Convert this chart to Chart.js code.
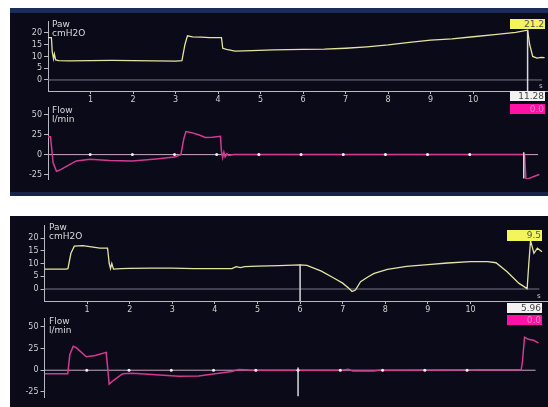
<!DOCTYPE html>
<html>
<head>
<meta charset="utf-8">
<script src="https://cdn.jsdelivr.net/npm/chart.js@4.4.1/dist/chart.umd.min.js"></script>
<style>
body { margin: 0; background: #fff; width: 548px; height: 407px; overflow: hidden; position: relative; font-family: "DejaVu Sans", sans-serif; }
.panel { position: absolute; left: 10px; width: 538px; background: #0a0a19; }
.band { position: absolute; left: 10px; width: 538px; background: #1b2b5a; }
canvas { position: absolute; }
.lbl { position: absolute; color: #d8d8d8; font-size: 9px; line-height: 9px; }
.box { position: absolute; width: 35px; height: 10px; font-size: 9px; line-height: 10px; text-align: right; padding-right: 1px; box-sizing: border-box; }
.yel { background: #f4f45c; color: #555; }
.wht { background: #f2f2f2; color: #444; }
.mag { background: #ff12a4; color: #ff7fd0; }
.unit { position: absolute; color: #ccc; font-size: 7px; }
</style>
</head>
<body>
<div class="panel" style="top:8px;height:188px"></div>
<div class="band" style="top:8px;height:5px"></div>
<div class="band" style="top:192px;height:4px;background:#17234a"></div>
<div class="panel" style="top:216px;height:191px"></div>

<canvas id="paw1" width="538" height="92" style="left:10px;top:14px"></canvas>
<canvas id="flow1" width="538" height="86" style="left:10px;top:100px"></canvas>
<canvas id="paw2" width="538" height="98" style="left:10px;top:218px"></canvas>
<canvas id="flow2" width="538" height="93" style="left:10px;top:311px"></canvas>

<div class="lbl" style="left:52px;top:20px">Paw<br>cmH2O</div>
<div class="lbl" style="left:52px;top:106px">Flow<br>l/min</div>
<div class="lbl" style="left:49px;top:223px">Paw<br>cmH2O</div>
<div class="lbl" style="left:49px;top:317px">Flow<br>l/min</div>

<div class="box yel" style="left:510px;top:19px">21.2</div>
<div class="box wht" style="left:510px;top:91px">11.28</div>
<div class="box mag" style="left:510px;top:104px">0.0</div>
<div class="box yel" style="left:507px;top:230px;height:11px">9.5</div>
<div class="box wht" style="left:507px;top:303px">5.96</div>
<div class="box mag" style="left:507px;top:315px">0.0</div>
<div class="unit" style="left:539px;top:82px">s</div>
<div class="unit" style="left:537px;top:292px">s</div>

<script>
// tick values
const secTicks = [1, 2, 3, 4, 5, 6, 7, 8, 9, 10];
const pawTicks = [0, 5, 10, 15, 20];
const flowTicks = [-25, 0, 25, 50];

// upper screen
const paw1T = [0, 0.08, 0.1, 0.13, 0.15, 0.18, 0.25, 0.5, 1, 1.5, 2, 2.5, 3, 3.15, 3.22, 3.28, 3.4, 3.6, 3.8, 4.08, 4.11, 4.2, 4.4, 4.8, 5.3, 6, 6.5, 7, 7.5, 8, 8.5, 9, 9.5, 10, 10.5, 11, 11.28, 11.33, 11.4, 11.5, 11.6, 11.68];
const paw1V = [18, 18, 12, 9, 11, 8.5, 8.2, 8.1, 8.2, 8.3, 8.2, 8.1, 8, 8.2, 15, 18.8, 18.3, 18.2, 18, 18, 13.5, 13, 12.3, 12.5, 12.8, 13, 13.1, 13.5, 14.1, 14.9, 16, 17, 17.5, 18.4, 19.3, 20.3, 21.2, 15, 10, 9.3, 9.6, 9.5];
const flow1T = [0, 0.06, 0.12, 0.2, 0.3, 0.5, 0.67, 1, 1.46, 2, 2.56, 3, 3.15, 3.22, 3.27, 3.38, 3.57, 3.73, 3.9, 4.09, 4.11, 4.14, 4.17, 4.2, 4.24, 4.28, 4.4, 11.3, 11.33, 11.36, 11.45, 11.55, 11.65];
const flow1V = [22.5, 22.5, -10, -21, -19, -13, -8, -6, -7.5, -8, -5.4, -3, 0, 20, 29, 28, 25, 21.6, 22, 23, 5, -4, 3, -3, 1, -1, 0, 0, -30, -31, -29, -27, -25];

// lower screen
const paw2T = [0, 0.5, 0.55, 0.62, 0.7, 0.9, 1.1, 1.3, 1.48, 1.52, 1.55, 1.58, 1.62, 1.8, 2, 2.5, 3, 3.5, 4, 4.4, 4.5, 4.6, 4.7, 5, 5.5, 6, 6.16, 6.5, 6.8, 7, 7.15, 7.22, 7.3, 7.42, 7.6, 7.74, 8.05, 8.5, 9, 9.46, 10, 10.4, 10.6, 10.86, 11.14, 11.33, 11.37, 11.41, 11.49, 11.57, 11.68];
const paw2V = [7.8, 7.8, 8, 14, 16.8, 17, 16.5, 16, 16, 10, 8, 10, 7.8, 8, 8.1, 8.2, 8.2, 8, 8, 8, 8.8, 8.4, 8.8, 9, 9.2, 9.5, 9.3, 7, 4.2, 2.3, 0.2, -1, -0.4, 2.9, 4.8, 6.1, 7.7, 8.9, 9.6, 10.2, 10.7, 10.7, 10.3, 6.8, 2.2, 0.2, 10, 19, 14, 16, 14.6];
const flow2T = [0, 0.55, 0.6, 0.68, 0.75, 0.99, 1.2, 1.46, 1.5, 1.53, 1.65, 1.85, 2.08, 2.63, 3.18, 3.65, 4.04, 4.43, 4.59, 4.75, 4.9, 7.05, 7.19, 7.3, 7.8, 7.9, 10.4, 11.28, 11.31, 11.36, 11.45, 11.57, 11.69];
const flow2V = [-4, -4, 18, 27.6, 26, 15.5, 17, 20.5, 0, -16, -11, -4, -3.5, -5.3, -7, -6.5, -4, -1.5, 0.8, 0.5, 0, 0, 1, -1, -0.8, 0, 0.4, 0.5, 10, 38, 35.5, 34.4, 31.5];

const pts = (t, v) => t.map((x, i) => ({ x: x, y: v[i] }));
const tickFont = { family: "DejaVu Sans", size: 8 };

function traceSet(data, color, w) {
  return { data: data, borderColor: color, borderWidth: w, pointRadius: 0, tension: 0 };
}

function pawChart(id, t, v, xMax, yAxisW, cursorX, cursorY) {
  new Chart(document.getElementById(id), {
    type: "line",
    data: {
      datasets: [
        traceSet([{ x: cursorX, y: cursorY }, { x: cursorX, y: -4.7 }], "#d8d8e0", 1.5),
        traceSet(pts(t, v), "#e4e4a0", 1.3),
        traceSet([{ x: 0, y: 0 }, { x: 11.62, y: 0 }], "#77778a", 1)
      ]
    },
    options: {
      responsive: false, animation: false,
      layout: { padding: { top: 7, right: 0, bottom: 0, left: 0 } },
      plugins: { legend: { display: false }, tooltip: { enabled: false } },
      scales: {
        x: {
          type: "linear", min: 0, max: xMax,
          afterBuildTicks: s => { s.ticks = secTicks.map(x => ({ value: x })); },
          afterFit: s => { s.height = 15; },
          grid: { drawOnChartArea: false, tickLength: 3, color: "#b8b8c0" },
          border: { color: "#b8b8c0", width: 1 },
          ticks: { color: "#d0d0d0", font: tickFont, padding: 1, maxRotation: 0 }
        },
        y: {
          min: -4.7, max: 25.1,
          afterBuildTicks: s => { s.ticks = pawTicks.map(x => ({ value: x })); },
          afterFit: s => { s.width = yAxisW; },
          grid: { drawOnChartArea: false, tickLength: 4, color: "#b8b8c0" },
          border: { color: "#b8b8c0", width: 1 },
          ticks: { color: "#d0d0d0", font: tickFont, padding: 2 }
        }
      }
    }
  });
}

function flowChart(id, t, v, xMax, yAxisW, cursorX, cursorTop) {
  new Chart(document.getElementById(id), {
    type: "line",
    data: {
      datasets: [
        traceSet([{ x: cursorX, y: cursorTop }, { x: cursorX, y: -30 }], "#d8d8e0", 1.5),
        { data: secTicks.map(x => ({ x: x, y: 0 })), showLine: false, pointRadius: 1.5, pointBorderWidth: 0, pointBackgroundColor: "#f0f0f0" },
        traceSet(pts(t, v), "#d33a92", 1.5),
        traceSet([{ x: 0, y: 0 }, { x: 11.62, y: 0 }], "#c9a9c0", 1)
      ]
    },
    options: {
      responsive: false, animation: false,
      layout: { padding: { top: 7, right: 0, bottom: 6, left: 0 } },
      plugins: { legend: { display: false }, tooltip: { enabled: false } },
      scales: {
        x: { type: "linear", min: 0, max: xMax, display: false },
        y: {
          min: -31, max: 60,
          afterBuildTicks: s => { s.ticks = flowTicks.map(x => ({ value: x })); },
          afterFit: s => { s.width = yAxisW; },
          grid: { drawOnChartArea: false, tickLength: 4, color: "#b8b8c0" },
          border: { color: "#b8b8c0", width: 1 },
          ticks: { color: "#d0d0d0", font: tickFont, padding: 2 }
        }
      }
    }
  });
}

pawChart("paw1", paw1T, paw1V, 11.76, 38, 11.28, 21.2);
flowChart("flow1", flow1T, flow1V, 11.76, 38, 11.28, 3);
pawChart("paw2", paw2T, paw2V, 11.82, 34.5, 6, 9.6);
flowChart("flow2", flow2T, flow2V, 11.82, 34.5, 6, 3);
</script>
</body>
</html>
